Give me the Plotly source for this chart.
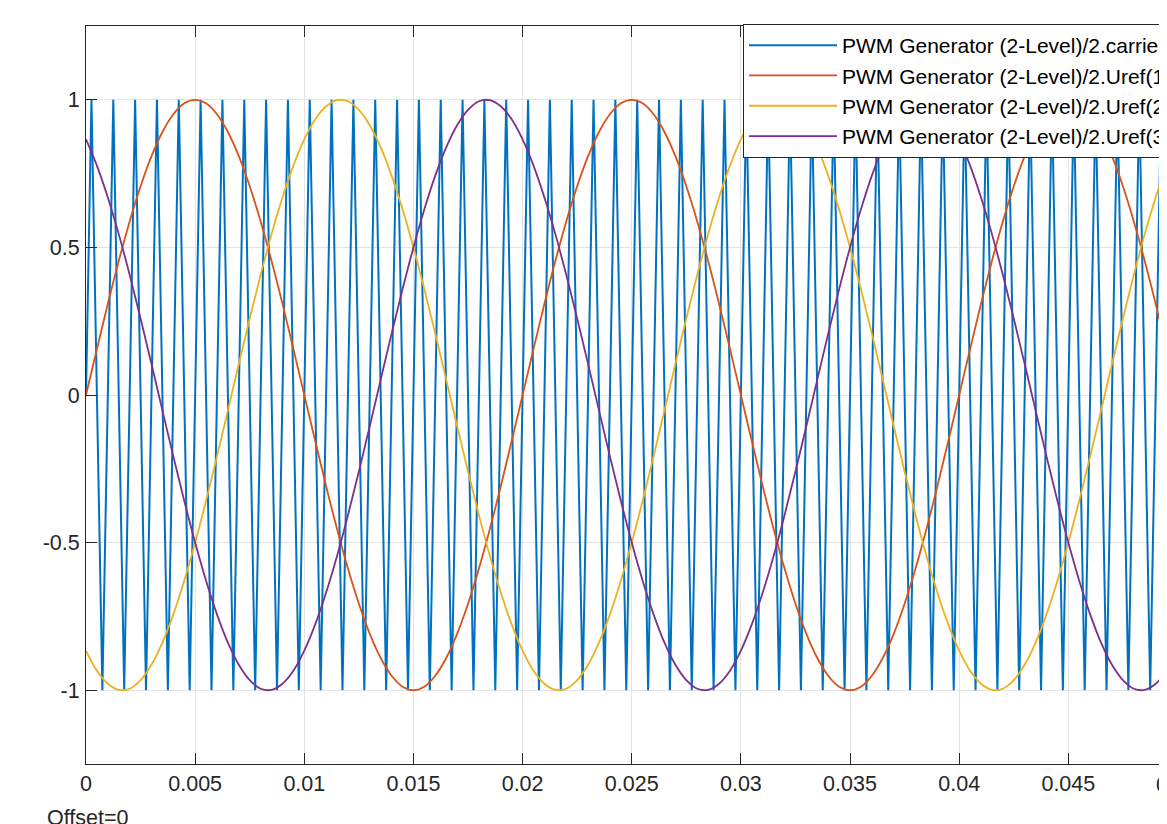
import plotly.graph_objects as go

# ---------------- data ----------------
# carrier: triangle wave vertices (time in ms, value)
carrier_t_ms = [0, 0.25, 0.75, 1.25, 1.75, 2.25, 2.75, 3.25, 3.75, 4.25, 4.75,
                5.25, 5.75, 6.25, 6.75, 7.25, 7.75, 8.25, 8.75, 9.25, 9.75,
                10.25, 10.75, 11.25, 11.75, 12.25, 12.75, 13.25, 13.75, 14.25, 14.75,
                15.25, 15.75, 16.25, 16.75, 17.25, 17.75, 18.25, 18.75, 19.25, 19.75,
                20.25, 20.75, 21.25, 21.75, 22.25, 22.75, 23.25, 23.75, 24.25, 24.75,
                25.25, 25.75, 26.25, 26.75, 27.25, 27.75, 28.25, 28.75, 29.25, 29.75,
                30.25, 30.75, 31.25, 31.75, 32.25, 32.75, 33.25, 33.75, 34.25, 34.75,
                35.25, 35.75, 36.25, 36.75, 37.25, 37.75, 38.25, 38.75, 39.25, 39.75,
                40.25, 40.75, 41.25, 41.75, 42.25, 42.75, 43.25, 43.75, 44.25, 44.75,
                45.25, 45.75, 46.25, 46.75, 47.25, 47.75, 48.25, 48.75, 49.25, 49.75,
                50]
carrier_v = [0,
             1, -1, 1, -1, 1, -1, 1, -1, 1, -1,
             1, -1, 1, -1, 1, -1, 1, -1, 1, -1,
             1, -1, 1, -1, 1, -1, 1, -1, 1, -1,
             1, -1, 1, -1, 1, -1, 1, -1, 1, -1,
             1, -1, 1, -1, 1, -1, 1, -1, 1, -1,
             1, -1, 1, -1, 1, -1, 1, -1, 1, -1,
             1, -1, 1, -1, 1, -1, 1, -1, 1, -1,
             1, -1, 1, -1, 1, -1, 1, -1, 1, -1,
             1, -1, 1, -1, 1, -1, 1, -1, 1, -1,
             1, -1, 1, -1, 1, -1, 1, -1, 1, -1,
             0]

# reference signals sampled every 0.5 ms
uref_t_ms = [0, 0.5, 1, 1.5, 2, 2.5, 3, 3.5, 4, 4.5,
             5, 5.5, 6, 6.5, 7, 7.5, 8, 8.5, 9, 9.5,
             10, 10.5, 11, 11.5, 12, 12.5, 13, 13.5, 14, 14.5,
             15, 15.5, 16, 16.5, 17, 17.5, 18, 18.5, 19, 19.5,
             20, 20.5, 21, 21.5, 22, 22.5, 23, 23.5, 24, 24.5,
             25, 25.5, 26, 26.5, 27, 27.5, 28, 28.5, 29, 29.5,
             30, 30.5, 31, 31.5, 32, 32.5, 33, 33.5, 34, 34.5,
             35, 35.5, 36, 36.5, 37, 37.5, 38, 38.5, 39, 39.5,
             40, 40.5, 41, 41.5, 42, 42.5, 43, 43.5, 44, 44.5,
             45, 45.5, 46, 46.5, 47, 47.5, 48, 48.5, 49, 49.5,
             50]

uref1 = [0, 0.156, 0.309, 0.454, 0.588, 0.707, 0.809, 0.891, 0.951, 0.988,
         1, 0.988, 0.951, 0.891, 0.809, 0.707, 0.588, 0.454, 0.309, 0.156,
         0, -0.156, -0.309, -0.454, -0.588, -0.707, -0.809, -0.891, -0.951, -0.988,
         -1, -0.988, -0.951, -0.891, -0.809, -0.707, -0.588, -0.454, -0.309, -0.156,
         0, 0.156, 0.309, 0.454, 0.588, 0.707, 0.809, 0.891, 0.951, 0.988,
         1, 0.988, 0.951, 0.891, 0.809, 0.707, 0.588, 0.454, 0.309, 0.156,
         0, -0.156, -0.309, -0.454, -0.588, -0.707, -0.809, -0.891, -0.951, -0.988,
         -1, -0.988, -0.951, -0.891, -0.809, -0.707, -0.588, -0.454, -0.309, -0.156,
         0, 0.156, 0.309, 0.454, 0.588, 0.707, 0.809, 0.891, 0.951, 0.988,
         1, 0.988, 0.951, 0.891, 0.809, 0.707, 0.588, 0.454, 0.309, 0.156,
         0]

uref2 = [-0.866, -0.934, -0.978, -0.999, -0.995, -0.966, -0.914, -0.839, -0.743, -0.629,
         -0.5, -0.358, -0.208, -0.052, 0.105, 0.259, 0.407, 0.545, 0.669, 0.777,
         0.866, 0.934, 0.978, 0.999, 0.995, 0.966, 0.914, 0.839, 0.743, 0.629,
         0.5, 0.358, 0.208, 0.052, -0.105, -0.259, -0.407, -0.545, -0.669, -0.777,
         -0.866, -0.934, -0.978, -0.999, -0.995, -0.966, -0.914, -0.839, -0.743, -0.629,
         -0.5, -0.358, -0.208, -0.052, 0.105, 0.259, 0.407, 0.545, 0.669, 0.777,
         0.866, 0.934, 0.978, 0.999, 0.995, 0.966, 0.914, 0.839, 0.743, 0.629,
         0.5, 0.358, 0.208, 0.052, -0.105, -0.259, -0.407, -0.545, -0.669, -0.777,
         -0.866, -0.934, -0.978, -0.999, -0.995, -0.966, -0.914, -0.839, -0.743, -0.629,
         -0.5, -0.358, -0.208, -0.052, 0.105, 0.259, 0.407, 0.545, 0.669, 0.777,
         0.866]

uref3 = [0.866, 0.777, 0.669, 0.545, 0.407, 0.259, 0.105, -0.052, -0.208, -0.358,
         -0.5, -0.629, -0.743, -0.839, -0.914, -0.966, -0.995, -0.999, -0.978, -0.934,
         -0.866, -0.777, -0.669, -0.545, -0.407, -0.259, -0.105, 0.052, 0.208, 0.358,
         0.5, 0.629, 0.743, 0.839, 0.914, 0.966, 0.995, 0.999, 0.978, 0.934,
         0.866, 0.777, 0.669, 0.545, 0.407, 0.259, 0.105, -0.052, -0.208, -0.358,
         -0.5, -0.629, -0.743, -0.839, -0.914, -0.966, -0.995, -0.999, -0.978, -0.934,
         -0.866, -0.777, -0.669, -0.545, -0.407, -0.259, -0.105, 0.052, 0.208, 0.358,
         0.5, 0.629, 0.743, 0.839, 0.914, 0.966, 0.995, 0.999, 0.978, 0.934,
         0.866, 0.777, 0.669, 0.545, 0.407, 0.259, 0.105, -0.052, -0.208, -0.358,
         -0.5, -0.629, -0.743, -0.839, -0.914, -0.966, -0.995, -0.999, -0.978, -0.934,
         -0.866]

series_names = ["PWM Generator (2-Level)/2.carrier",
                "PWM Generator (2-Level)/2.Uref(1)",
                "PWM Generator (2-Level)/2.Uref(2)",
                "PWM Generator (2-Level)/2.Uref(3)"]

x_tickvals = [0, 0.005, 0.01, 0.015, 0.02, 0.025, 0.03, 0.035, 0.04, 0.045, 0.05]
x_ticktext = ["0", "0.005", "0.01", "0.015", "0.02", "0.025", "0.03", "0.035", "0.04", "0.045", "0.05"]
y_tickvals = [-1, -0.5, 0, 0.5, 1]
y_ticktext = ["-1", "-0.5", "0", "0.5", "1"]

# ---------------- styling ----------------
colors = ["#0072BD", "#D95319", "#EDB120", "#7E2F8E"]
FONT = "Liberation Sans, Arial, Helvetica, sans-serif"
FS = 21.5
LFS = 21
AXC = "#262626"
GRID = "#e3e3e3"

# the page body adds an 8 px offset; size the figure so it ends at the window edge
W, H = 1159, 816
ML, MT, MB, MR = 78, 18, 60, 0
x_range = [0, 0.04952]
y_range = [-1.25, 1.25]

carrier_t = [v / 1000 for v in carrier_t_ms]
uref_t = [v / 1000 for v in uref_t_ms]

fig = go.Figure()
fig.add_trace(go.Scatter(x=carrier_t, y=carrier_v, mode="lines", name=series_names[0],
                         line=dict(color=colors[0], width=2)))
for name, ys, c in zip(series_names[1:], [uref1, uref2, uref3], colors[1:]):
    fig.add_trace(go.Scatter(x=uref_t, y=ys, mode="lines", name=name,
                             line=dict(color=c, width=1.8, shape="spline", smoothing=1)))

plot_w = W - ML - MR
plot_h = H - MT - MB

fig.update_layout(
    width=W, height=H,
    margin=dict(l=ML, r=MR, t=MT, b=MB, pad=0, autoexpand=False),
    paper_bgcolor="white", plot_bgcolor="white",
    font=dict(family=FONT, size=FS, color=AXC),
    showlegend=True,
    legend=dict(
        x=(735 - ML) / plot_w, y=1 + 2 / plot_h, xanchor="left", yanchor="top",
        bgcolor="white", bordercolor=AXC, borderwidth=1,
        font=dict(family=FONT, size=LFS, color="#000000"),
        itemwidth=88, tracegroupgap=0,
    ),
    xaxis=dict(
        range=x_range, tickvals=x_tickvals, ticktext=x_ticktext,
        showgrid=True, gridcolor=GRID, gridwidth=1, zeroline=False,
        showline=True, linecolor=AXC, linewidth=1, mirror="ticks",
        ticks="inside", ticklen=11, tickwidth=1, tickcolor=AXC,
        tickfont=dict(family=FONT, size=FS, color=AXC),
        ticklabelstandoff=0,
    ),
    yaxis=dict(
        range=y_range, tickvals=y_tickvals, ticktext=y_ticktext,
        showgrid=True, gridcolor=GRID, gridwidth=1, zeroline=False,
        showline=True, linecolor=AXC, linewidth=1, mirror=False,
        ticks="inside", ticklen=11, tickwidth=1, tickcolor=AXC,
        tickfont=dict(family=FONT, size=FS, color=AXC),
        ticklabelstandoff=1,
    ),
)

# last x tick label (0.05) lies just past the visible window edge
fig.add_annotation(x=(x_tickvals[-1] - x_range[0]) / (x_range[1] - x_range[0]), xref="paper",
                   y=-21 / plot_h, yref="paper", xanchor="center", yanchor="middle",
                   text=x_ticktext[-1], showarrow=False,
                   font=dict(family=FONT, size=FS, color=AXC))

fig.add_annotation(x=(37 - ML) / plot_w, xref="paper", y=-(796 - (H - MB)) / plot_h, yref="paper",
                   xanchor="left", yanchor="top", text="Offset=0", showarrow=False,
                   font=dict(family=FONT, size=FS, color=AXC))

fig.write_html("out.html")
